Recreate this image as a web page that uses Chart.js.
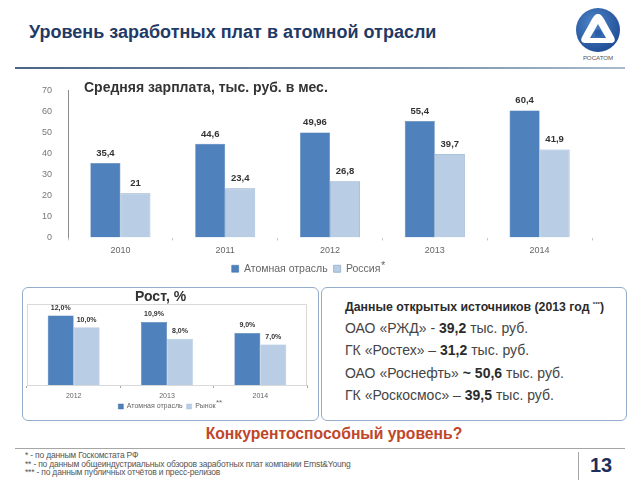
<!DOCTYPE html>
<html>
<head>
<meta charset="utf-8">
<script src="https://cdn.jsdelivr.net/npm/chart.js@4"></script>
<style>
  body { margin: 0; background: #fff; font-family: Arial, "Liberation Sans", sans-serif; }
  #slide { position: relative; width: 640px; height: 480px; overflow: hidden; background: #fff; }
  .abs { position: absolute; white-space: nowrap; }
  #title { left: 29px; top: 22px; font-size: 18px; font-weight: bold; color: #1F3A66; }
  #topline { left: 15px; top: 67px; width: 610px; height: 2px;
    background: linear-gradient(to right, #4B6684, #7E97B0 70%, #A9BBCC); }
  #subtitle { left: 84px; top: 79px; font-size: 14px; font-weight: bold; color: #333; }
  .box { position: absolute; border: 1.5px solid #95ADCB; border-radius: 6px; box-sizing: border-box; }
  #growthTitle { left: 135px; top: 288px; font-size: 14px; font-weight: bold; color: #333; }
  #srcHead { left: 345px; top: 300px; font-size: 12.3px; font-weight: bold; color: #2b2b2b; }
  #srcHead sup { font-size: 6px; }
  .src { left: 345px; font-size: 14px; color: #444; }
  .src b { color: #2b2b2b; }
  #question { left: 14px; width: 640px; text-align: center; top: 425px; font-size: 15.7px; font-weight: bold; color: #C0462A; }
  #botline { left: 15px; top: 448px; width: 610px; height: 1px; background: #A6A6A6; }
  #divider { left: 578px; top: 452px; width: 1px; height: 28px; background: #A6A6A6; }
  .note { left: 25px; font-size: 8.5px; color: #555; letter-spacing: -0.2px; }
  #page { left: 590px; top: 454px; font-size: 20px; font-weight: bold; color: #1F2F5A; }
  .star { font-size: 11px; color: #666; }
</style>
</head>
<body>
<div id="slide">
  <div id="title" class="abs">Уровень заработных плат в атомной отрасли</div>
  <svg class="abs" style="left:572px;top:6px" width="54" height="58" viewBox="0 0 54 58">
    <defs>
      <radialGradient id="lg" cx="40%" cy="35%" r="70%">
        <stop offset="0" stop-color="#4E86C8"/>
        <stop offset="1" stop-color="#1E4B94"/>
      </radialGradient>
    </defs>
    <circle cx="26" cy="24" r="22" fill="url(#lg)"/>
    <path d="M26 8 C29 8 30 10 32 13 L42 31 C44 35 42 37 38 37 L14 37 C10 37 8 35 10 31 L20 13 C22 10 23 8 26 8 Z
             M26 18 L18 32 L34 32 Z" fill="#fff" fill-rule="evenodd"/>
    <circle cx="26" cy="27" r="3.5" fill="#2B5EA8"/>
    <text x="26" y="53.5" text-anchor="middle" font-size="6.2" font-family="Arial, Liberation Sans, sans-serif" fill="#555">РОСАТОМ</text>
  </svg>
  <div id="topline" class="abs"></div>

  <canvas id="main" class="abs" style="left:20px;top:77px" width="590" height="207"></canvas>
  <div id="subtitle" class="abs">Средняя зарплата, тыс. руб. в мес.</div>
  <div class="abs star" style="left:381px;top:259px">*</div>

  <div class="box" style="left:22px;top:287px;width:297px;height:134px"></div>
  <div class="box" style="left:321px;top:287px;width:306px;height:134px"></div>
  <canvas id="growth" class="abs" style="left:22px;top:288px" width="296" height="132"></canvas>
  <div id="growthTitle" class="abs">Рост, %</div>
  <div class="abs star" style="left:216px;top:398px;font-size:8px">**</div>

  <div id="srcHead" class="abs">Данные открытых источников (2013 год <sup>***</sup>)</div>
  <div class="abs src" style="top:320px">ОАО «РЖД» - <b>39,2</b> тыс. руб.</div>
  <div class="abs src" style="top:342px">ГК «Ростех» – <b>31,2</b> тыс. руб.</div>
  <div class="abs src" style="top:365px">ОАО «Роснефть» <b>~ 50,6</b> тыс. руб.</div>
  <div class="abs src" style="top:387px">ГК «Роскосмос» – <b>39,5</b> тыс. руб.</div>

  <div id="question" class="abs">Конкурентоспособный уровень?</div>
  <div id="botline" class="abs"></div>
  <div id="divider" class="abs"></div>
  <div class="abs note" style="top:450px">* - по данным Госкомстата РФ</div>
  <div class="abs note" style="top:458.5px">** - по данным общеиндустриальных обзоров заработных плат компании Ernst&amp;Young</div>
  <div class="abs note" style="top:467px">*** - по данным публичных отчётов и пресс-релизов</div>
  <div id="page" class="abs">13</div>
</div>

<script>
// --- Data ---
const years = ["2010", "2011", "2012", "2013", "2014"];
const nuclearSalary = [35.4, 44.6, 49.96, 55.4, 60.4];
const russiaSalary = [21, 23.4, 26.8, 39.7, 41.9];

const growthYears = ["2012", "2013", "2014"];
const nuclearGrowth = [12.0, 10.9, 9.0];
const marketGrowth = [10.0, 8.0, 7.0];

const darkBlue = "#4F81BD";
const lightBlue = "#B9CDE5";
const font = "Arial, 'Liberation Sans', sans-serif";

// draws value labels above each bar
const barLabels = {
  id: "barLabels",
  afterDatasetsDraw(chart, args, opts) {
    const ctx = chart.ctx;
    ctx.save();
    ctx.font = "bold " + opts.size + "px " + font;
    ctx.fillStyle = "#333";
    ctx.textAlign = "center";
    ctx.textBaseline = "bottom";
    chart.data.datasets.forEach((ds, i) => {
      chart.getDatasetMeta(i).data.forEach((bar, j) => {
        ctx.fillText(opts.format(ds.data[j]), bar.x, bar.y - opts.gap);
      });
    });
    ctx.restore();
  },
};

// thin frame around the plot area
const areaFrame = {
  id: "areaFrame",
  beforeDatasetsDraw(chart, args, opts) {
    if (!opts.color) return;
    const a = chart.chartArea;
    const ctx = chart.ctx;
    ctx.save();
    ctx.strokeStyle = opts.color;
    ctx.lineWidth = 1;
    ctx.strokeRect(a.left + 0.5, a.top + 0.5, a.right - a.left - 1, a.bottom - a.top);
    ctx.restore();
  },
};

// --- Main chart ---
new Chart(document.getElementById("main"), {
  type: "bar",
  data: {
    labels: years,
    datasets: [
      { label: "Атомная отрасль", data: nuclearSalary, backgroundColor: darkBlue,
        borderColor: "#3F6FA8", borderWidth: 0.5 },
      { label: "Россия", data: russiaSalary, backgroundColor: lightBlue,
        borderColor: "#8FAACB", borderWidth: 0.8 },
    ],
  },
  options: {
    responsive: false,
    animation: false,
    events: [],
    layout: { padding: { top: 9, right: 18, left: 0, bottom: 0 } },
    datasets: { bar: { categoryPercentage: 0.573, barPercentage: 1.0 } },
    plugins: {
      legend: {
        position: "bottom",
        labels: { color: "#666", font: { size: 10.5, family: font }, boxWidth: 7, boxHeight: 7, padding: 6 },
      },
      tooltip: { enabled: false },
      barLabels: { size: 9.5, gap: 5, format: (v) => String(v).replace(".", ",") },
      areaFrame: { color: null },
    },
    scales: {
      x: {
        border: { display: false },
        grid: { drawOnChartArea: false, tickLength: 3, color: "#C8C8C8" },
        ticks: { color: "#666", font: { size: 9, family: font }, padding: 5 },
        afterFit: (s) => { s.height = 20; },
      },
      y: {
        min: 0,
        max: 70,
        border: { display: true, color: "#8C8C8C" },
        grid: { display: false },
        ticks: { stepSize: 10, color: "#777", font: { size: 9, family: font }, padding: 8 },
        afterFit: (s) => { s.width = 48; },
      },
    },
  },
  plugins: [barLabels, areaFrame],
});

// --- Growth chart ---
new Chart(document.getElementById("growth"), {
  type: "bar",
  data: {
    labels: growthYears,
    datasets: [
      { label: "Атомная отрасль", data: nuclearGrowth, backgroundColor: darkBlue,
        borderColor: "#3F6FA8", borderWidth: 0.5 },
      { label: "Рынок", data: marketGrowth, backgroundColor: lightBlue,
        borderColor: "#A9BFDA", borderWidth: 0.5 },
    ],
  },
  options: {
    responsive: false,
    animation: false,
    events: [],
    layout: { padding: { top: 16, right: 11, left: 5, bottom: 0 } },
    datasets: { bar: { categoryPercentage: 0.556, barPercentage: 1.0 } },
    plugins: {
      legend: {
        position: "bottom",
        labels: { color: "#666", font: { size: 7, family: font }, boxWidth: 5, boxHeight: 5, padding: 4 },
      },
      tooltip: { enabled: false },
      barLabels: { size: 7, gap: 4, format: (v) => v.toFixed(1).replace(".", ",") + "%" },
      areaFrame: { color: "#D9D9D9" },
    },
    scales: {
      x: {
        border: { display: true, color: "#BFBFBF" },
        grid: { drawOnChartArea: false, tickLength: 3, color: "#A6A6A6" },
        ticks: { color: "#666", font: { size: 7, family: font }, padding: 4 },
        afterFit: (s) => { s.height = 14; },
      },
      y: {
        display: false,
        min: 0,
        max: 14,
      },
    },
  },
  plugins: [barLabels, areaFrame],
});
</script>
</body>
</html>
